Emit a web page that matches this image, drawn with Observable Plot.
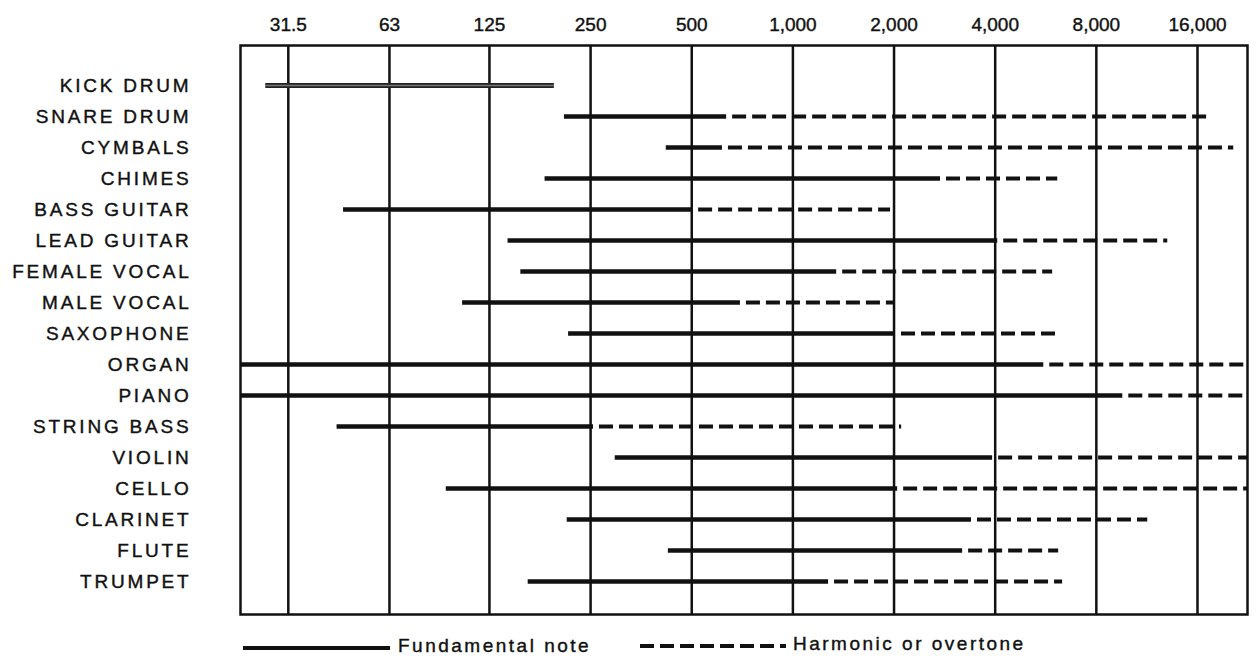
<!DOCTYPE html>
<html>
<head>
<meta charset="utf-8">
<script src="https://cdn.jsdelivr.net/npm/d3@7"></script>
<script src="https://cdn.jsdelivr.net/npm/@observablehq/plot@0.6"></script>
<style>
  html, body { margin: 0; padding: 0; background: #fff; }
  body { width: 1258px; height: 665px; overflow: hidden; font-family: "Liberation Sans", Arial, Helvetica, sans-serif; color: #111; }
  #chart svg text { stroke: #111; stroke-width: 0.4px; }
  #legend { position: relative; height: 43px; width: 1258px; font-size: 19px; letter-spacing: 2.5px; -webkit-text-stroke: 0.4px #111; }
  #legend .sw { position: absolute; height: 4px; }
  #legend .solid { background: #111; }
  #legend .dash { background: repeating-linear-gradient(to right, #111 0 14px, transparent 14px 20px); }
  #legend .lbl { position: absolute; white-space: nowrap; }
</style>
</head>
<body>
<div id="chart"></div>
<div id="legend">
  <div class="sw solid" style="left:243px; top:24px; width:147px;"></div>
  <div class="lbl" style="left:398px; top:13px;">Fundamental note</div>
  <div class="sw dash" style="left:640px; top:22px; width:146px;"></div>
  <div class="lbl" style="left:793px; top:11px;">Harmonic or overtone</div>
</div>
<script>
// ---- Data (frequencies in Hz) ----
const instruments = ["KICK DRUM","SNARE DRUM","CYMBALS","CHIMES","BASS GUITAR","LEAD GUITAR","FEMALE VOCAL","MALE VOCAL","SAXOPHONE","ORGAN","PIANO","STRING BASS","VIOLIN","CELLO","CLARINET","FLUTE","TRUMPET"];
const fundamentalLow  = [27, 209, 420, 183, 46, 142, 155, 104, 215, 22.7, 22.7, 44, 296, 93, 213, 426, 163];
const fundamentalHigh = [195, 635, 617, 2750, 503, 4070, 1350, 698, 2020, 5580, 9590, 255, 3930, 2050, 3400, 3200, 1277];
const harmonicHigh    = [null, 17640, 20510, 6140, 1953, 13050, 5930, 1994, 6180, 22540, 22540, 2107, 22540, 22540, 11380, 6180, 6350];
const tickValues = [31.5, 63, 125, 250, 500, 1000, 2000, 4000, 8000, 16000];
const freqDomain = [22.7, 22540];

const rows = instruments.map((name, i) => ({
  name,
  lo: fundamentalLow[i],
  mid: fundamentalHigh[i],
  hi: harmonicHigh[i]
}));
const kick = rows.filter(d => d.name === "KICK DRUM");
const others = rows.filter(d => d.name !== "KICK DRUM");
const harm = rows.filter(d => d.hi != null);

const chart = Plot.plot({
  width: 1258,
  height: 622,
  marginLeft: 240,
  marginRight: 11,
  marginTop: 45,
  marginBottom: 8,
  style: { fontFamily: '"Liberation Sans", Arial, Helvetica, sans-serif', fontSize: "19px", color: "#111", background: "#fff" },
  x: { type: "log", domain: freqDomain, axis: null },
  y: { type: "point", domain: instruments, padding: 0, insetTop: 39, insetBottom: 33, axis: null },
  marks: [
    Plot.gridX(tickValues, { stroke: "#111", strokeOpacity: 1, strokeWidth: 2.5 }),
    Plot.frame({ stroke: "#111", strokeWidth: 2.5 }),
    // top tick labels
    Plot.text(tickValues, { x: d => d, text: d => d3.format(",")(d), frameAnchor: "top", lineAnchor: "bottom", dy: -15, fontSize: 19, fill: "#111", style: "letter-spacing:1.2px" }),
    // instrument labels
    Plot.axisY({ anchor: "left", label: null, tickSize: 0, tickPadding: 49, fontSize: 19, fill: "#111" }),
    // fundamental (solid)
    Plot.ruleY(others, { y: "name", x1: "lo", x2: "mid", stroke: "#111", strokeWidth: 4.5 }),
    // harmonic / overtone (dashed)
    Plot.ruleY(harm, { y: "name", x1: "mid", x2: "hi", stroke: "#111", strokeWidth: 4, strokeDasharray: "14,6", strokeDashoffset: 14 }),
    // kick drum drawn as a hollow band
    Plot.ruleY(kick, { y: "name", x1: "lo", x2: "mid", stroke: "#222", strokeWidth: 5 }),
    Plot.ruleY(kick, { y: "name", x1: "lo", x2: "mid", stroke: "#777", strokeWidth: 1.6 })
  ]
});
// wider letter spacing on the instrument labels, as in the original print
d3.select(chart).selectAll("g[aria-label='y-axis tick label'] text").style("letter-spacing", "2.8px");
document.getElementById("chart").appendChild(chart);
</script>
</body>
</html>
